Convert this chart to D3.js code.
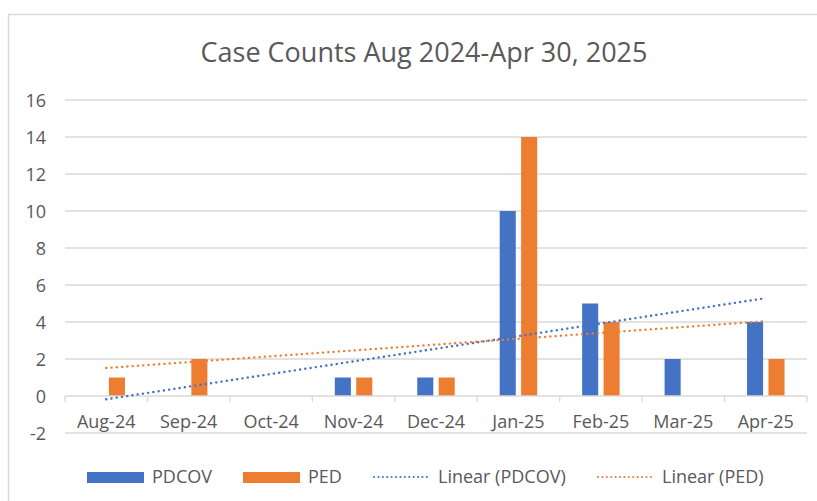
<!DOCTYPE html>
<html>
<head>
<meta charset="utf-8">
<script src="https://cdn.jsdelivr.net/npm/d3@7"></script>
<style>
  body { margin: 0; background: #fff; }
  svg { font-family: "Open Sans", "Liberation Sans", sans-serif; }
</style>
</head>
<body>
<svg id="chart" width="817" height="501"></svg>
<script>
var months = ['Aug-24', 'Sep-24', 'Oct-24', 'Nov-24', 'Dec-24', 'Jan-25', 'Feb-25', 'Mar-25', 'Apr-25'];
var pdcov = [0, 0, 0, 1, 1, 10, 5, 2, 4];
var ped = [1, 2, 0, 1, 1, 14, 4, 0, 2];
var yTicks = [-2, 0, 2, 4, 6, 8, 10, 12, 14, 16];

var blue = '#4472C4', orange = '#ED7D31', grey = '#595959';

var svg = d3.select('#chart');

// chart frame
svg.append('path')
  .attr('d', 'M8.5,501 V14.5 H817')
  .attr('fill', 'none')
  .attr('stroke', '#d9d9d9')
  .attr('stroke-width', 1.5);

svg.append('text')
  .attr('x', 424)
  .attr('y', 62)
  .attr('text-anchor', 'middle')
  .attr('fill', grey)
  .style('font-size', '27px')
  .text('Case Counts Aug 2024-Apr 30, 2025');

var x = d3.scaleBand().domain(months).range([65, 807]);
var y = d3.scaleLinear().domain([-2, 16]).range([433, 100]);

// gridlines
svg.append('g').selectAll('line')
  .data(yTicks.filter(function (d) { return d !== 0; }))
  .enter().append('line')
  .attr('x1', 65).attr('x2', 807)
  .attr('y1', function (d) { return y(d); })
  .attr('y2', function (d) { return y(d); })
  .attr('stroke', '#d9d9d9')
  .attr('stroke-width', 1.3);

// y labels
svg.append('g').selectAll('text')
  .data(yTicks)
  .enter().append('text')
  .attr('x', 46)
  .attr('y', function (d) { return y(d) + 6.5; })
  .attr('text-anchor', 'end')
  .attr('fill', grey)
  .style('font-size', '18px')
  .text(function (d) { return d; });

// bars
var inner = d3.scaleBand().domain(['pdcov', 'ped']).range([0, x.bandwidth()]).paddingInner(0.25).paddingOuter(1.05);
var series = [{ key: 'pdcov', values: pdcov, color: blue }, { key: 'ped', values: ped, color: orange }];

series.forEach(function (s) {
  svg.append('g').selectAll('rect')
    .data(s.values)
    .enter().append('rect')
    .attr('x', function (d, i) { return x(months[i]) + inner(s.key); })
    .attr('width', inner.bandwidth())
    .attr('y', function (d) { return y(Math.max(d, 0)); })
    .attr('height', function (d) { return Math.abs(y(d) - y(0)); })
    .attr('fill', s.color);
});

// category axis at zero
var xAxis = svg.append('g').attr('transform', 'translate(0,' + y(0) + ')');
xAxis.append('line').attr('x1', 65).attr('x2', 807).attr('stroke', '#d9d9d9').attr('stroke-width', 1.3);
xAxis.selectAll('line.tick')
  .data(d3.range(months.length + 1))
  .enter().append('line')
  .attr('class', 'tick')
  .attr('x1', function (i) { return 65 + i * x.step(); })
  .attr('x2', function (i) { return 65 + i * x.step(); })
  .attr('y1', 0).attr('y2', 6)
  .attr('stroke', '#d9d9d9').attr('stroke-width', 1.3);

svg.append('g').selectAll('text')
  .data(months)
  .enter().append('text')
  .attr('x', function (d) { return x(d) + x.bandwidth() / 2; })
  .attr('y', 428)
  .attr('text-anchor', 'middle')
  .attr('fill', grey)
  .style('font-size', '18px')
  .text(function (d) { return d; });

// linear trendlines (least squares over category index)
function fit(vals) {
  var n = vals.length;
  var xs = d3.range(1, n + 1);
  var mx = d3.mean(xs), my = d3.mean(vals);
  var sxy = d3.sum(xs, function (xi, i) { return (xi - mx) * (vals[i] - my); });
  var sxx = d3.sum(xs, function (xi) { return (xi - mx) * (xi - mx); });
  var b = sxy / sxx, a = my - b * mx;
  return [{ i: 0, v: a + b }, { i: n - 1, v: a + b * n }];
}

var line = d3.line()
  .x(function (d) { return x(months[d.i]) + x.bandwidth() / 2; })
  .y(function (d) { return y(d.v); });

series.forEach(function (s) {
  svg.append('path')
    .datum(fit(s.values))
    .attr('d', line)
    .attr('fill', 'none')
    .attr('stroke', s.color)
    .attr('stroke-width', 2.4)
    .attr('stroke-linecap', 'round')
    .attr('stroke-dasharray', '0.1 5.2');
});

// legend
var legend = svg.append('g').attr('transform', 'translate(0,477)');
var items = [
  { label: 'PDCOV', color: blue, type: 'bar', x: 87 },
  { label: 'PED', color: orange, type: 'bar', x: 243 },
  { label: 'Linear (PDCOV)', color: blue, type: 'line', x: 373 },
  { label: 'Linear (PED)', color: orange, type: 'line', x: 597 }
];
items.forEach(function (it) {
  if (it.type === 'bar') {
    legend.append('rect').attr('x', it.x).attr('y', -5).attr('width', 57).attr('height', 11).attr('fill', it.color);
  } else {
    legend.append('line').attr('x1', it.x + 1).attr('x2', it.x + 57).attr('y1', 0).attr('y2', 0)
      .attr('stroke', it.color).attr('stroke-width', 2)
      .attr('stroke-linecap', 'round').attr('stroke-dasharray', '0.1 4.3');
  }
  legend.append('text')
    .attr('x', it.x + 65)
    .attr('y', 6)
    .attr('fill', grey)
    .style('font-size', '18px')
    .text(it.label);
});
</script>
</body>
</html>
